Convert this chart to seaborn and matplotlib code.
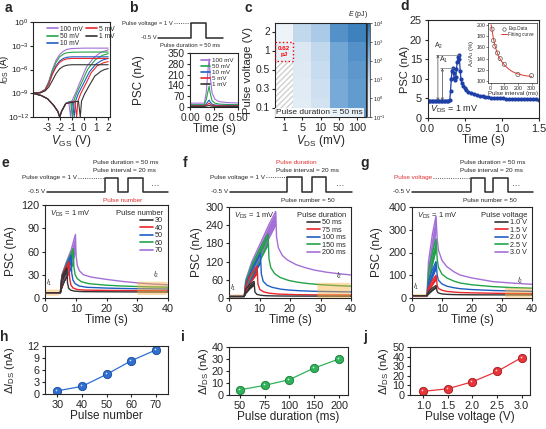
import numpy as np
import pandas as pd
import matplotlib
matplotlib.use("Agg")
import matplotlib.pyplot as plt
import matplotlib.transforms as mtrans
from matplotlib.colors import LogNorm, LinearSegmentedColormap
from matplotlib.patches import Rectangle, FancyBboxPatch
from matplotlib.lines import Line2D
import seaborn as sns

sns.set_style("ticks")
plt.rcParams["font.family"] = ["Liberation Sans", "DejaVu Sans"]
plt.rcParams["mathtext.fontset"] = "custom"
plt.rcParams["mathtext.rm"] = "Liberation Sans"
plt.rcParams["mathtext.it"] = "Liberation Sans:italic"
plt.rcParams["mathtext.bf"] = "Liberation Sans:bold"
plt.rcParams["axes.linewidth"] = 0.8
plt.rcParams["axes.unicode_minus"] = False

PUR, GRN, BLU, RED, BLK = "#A46FD6", "#22A34A", "#1F5FC4", "#E8262B", "#333333"

# ---------------- data: panel a (transfer curves) ----------------
a_labels = ["100 mV", "50 mV", "10 mV", "5 mV", "1 mV"]
a_colors = [PUR, GRN, BLU, RED, BLK]
a_rev_x = [-4.2, -3.6, -3.2, -2.9, -2.6, -2.3, -2.0, -1.7, -1.4, -1.0, 0.0, 1.0, 2.0]
a_rev_100 = [1e-9, 1.3e-9, 3e-9, 3e-8, 1e-6, 1.5e-5, 8e-5, 2e-4, 3.5e-4, 4.5e-4, 5e-4, 5e-4, 5e-4]
a_rev_50 = [1e-9, 1.3e-9, 3e-9, 2.5e-8, 7e-7, 8e-6, 4e-5, 9e-5, 1.3e-4, 1.5e-4, 1.6e-4, 1.6e-4, 1.6e-4]
a_rev_10 = [1e-9, 1.2e-9, 2.5e-9, 1.5e-8, 3e-7, 3e-6, 1.2e-5, 2.5e-5, 3.5e-5, 4e-5, 4e-5, 4e-5, 4e-5]
a_rev_5 = [1e-9, 1.2e-9, 2.5e-9, 1.5e-8, 2.5e-7, 2e-6, 8e-6, 1.6e-5, 2.2e-5, 2.5e-5, 2.5e-5, 2.5e-5, 2.5e-5]
a_rev_1 = [1e-9, 1.1e-9, 2e-9, 6e-9, 4e-8, 3e-7, 1.2e-6, 2.5e-6, 3.5e-6, 4e-6, 4e-6, 4e-6, 4e-6]
a_fwd_x_100 = [-4.2, -3.5, -3.0, -2.5, -2.15, -2.0, -1.85, -1.5, -1.25, -1.1, -1.0, -0.7, -0.3, 0.2, 0.8, 1.4, 2.0]
a_fwd_100 = [1e-9, 5e-10, 2e-10, 3e-11, 5e-12, 1e-12, 5e-12, 5e-11, 8e-11, 1e-12, 1e-10, 1e-9, 3e-8, 2e-6, 3e-5, 1.5e-4, 3e-4]
a_fwd_x_50 = [-4.2, -3.5, -3.0, -2.5, -2.15, -2.0, -1.85, -1.5, -1.1, -0.95, -0.85, -0.6, -0.2, 0.3, 0.9, 1.5, 2.0]
a_fwd_50 = [1e-9, 5e-10, 2e-10, 3e-11, 5e-12, 1e-12, 5e-12, 5e-11, 1e-10, 1e-12, 1e-10, 1e-9, 2e-8, 1e-6, 1.5e-5, 6e-5, 1e-4]
a_fwd_x_10 = [-4.2, -3.5, -3.0, -2.5, -2.15, -2.0, -1.85, -1.5, -0.95, -0.8, -0.7, -0.45, -0.05, 0.45, 1.0, 1.5, 2.0]
a_fwd_10 = [1e-9, 5e-10, 2e-10, 3e-11, 5e-12, 1e-12, 5e-12, 5e-11, 1e-10, 1e-12, 1e-10, 1e-9, 1.5e-8, 5e-7, 5e-6, 1.5e-5, 2.5e-5]
a_fwd_x_5 = [-4.2, -3.5, -3.0, -2.5, -2.15, -2.0, -1.85, -1.5, -0.75, -0.6, -0.5, -0.25, 0.15, 0.6, 1.1, 1.6, 2.0]
a_fwd_5 = [1e-9, 5e-10, 2e-10, 3e-11, 5e-12, 1e-12, 5e-12, 5e-11, 1e-10, 1e-12, 1e-10, 1e-9, 1.5e-8, 4e-7, 3e-6, 7e-6, 1e-5]
a_fwd_x_1 = [-4.2, -3.5, -3.0, -2.5, -2.15, -2.0, -1.85, -1.5, -0.45, -0.3, -0.2, 0.05, 0.45, 0.9, 1.4, 1.7, 2.0]
a_fwd_1 = [1e-9, 5e-10, 2e-10, 3e-11, 5e-12, 1e-12, 5e-12, 5e-11, 1e-10, 1e-12, 1e-10, 8e-10, 1e-8, 1.5e-7, 6e-7, 1e-6, 1.3e-6]

# ---------------- data: panel b ----------------
b_t = [0.0, 0.10, 0.15, 0.17, 0.19, 0.20, 0.21, 0.23, 0.26, 0.30, 0.40, 0.50]
b_100 = [25, 25, 25, 100, 260, 312, 200, 90, 50, 35, 28, 26]
b_50 = [15, 15, 15, 50, 110, 135, 90, 40, 25, 19, 16, 15]
b_10 = [10, 10, 10, 20, 38, 45, 32, 18, 13, 11, 10, 10]
b_5 = [7, 7, 7, 12, 20, 25, 18, 11, 9, 8, 7, 7]
b_1 = [4, 4, 4, 6, 9, 10, 8, 5, 4.5, 4, 4, 4]

# ---------------- data: panel c (energy map, pJ) ----------------
c_vds = [1, 5, 10, 50, 100]
c_vp = [2, 1, 0.5, 0.3, 0.1]
c_E_2 = [0.3, 10, 30, 1500, 4000]
c_E_1 = [0.62, 2, 10, 400, 1500]
c_E_05 = [np.nan, 1.5, 8, 400, 1000]
c_E_03 = [np.nan, 1.2, 6, 300, 800]
c_E_01 = [np.nan, 1.0, 5, 300, 800]

# ---------------- data: panel d ----------------
d_t = [0.00, 0.02, 0.04, 0.06, 0.08, 0.10, 0.12, 0.14, 0.16, 0.18, 0.20, 0.22, 0.24, 0.26, 0.28,
       0.30, 0.31, 0.32, 0.33, 0.34, 0.35, 0.36, 0.37, 0.38, 0.39, 0.40, 0.41, 0.42, 0.43, 0.44,
       0.45, 0.46, 0.48, 0.50, 0.52, 0.55, 0.58, 0.62, 0.66, 0.70, 0.74, 0.78, 0.82, 0.86, 0.90,
       0.94, 0.98, 1.02, 1.06, 1.10, 1.14, 1.18, 1.22, 1.26, 1.30, 1.34, 1.38, 1.42, 1.46, 1.50]
d_psc = [4.4, 4.4, 4.4, 4.4, 4.4, 4.4, 4.4, 4.4, 4.4, 4.4, 4.4, 4.4, 4.4, 4.4, 4.4,
         4.6, 7.0, 10.0, 12.0, 12.7, 11.5, 10.2, 9.7, 10.5, 12.5, 14.3, 15.5, 16.1, 15.0, 12.0,
         10.0, 9.0, 8.2, 7.6, 7.2, 6.7, 6.3, 6.0, 5.8, 5.6, 5.5, 5.4, 5.3, 5.2, 5.15,
         5.1, 5.05, 5.0, 4.95, 4.9, 4.9, 4.85, 4.85, 4.8, 4.8, 4.8, 4.75, 4.75, 4.75, 4.7]
d_int = [10, 20, 30, 50, 70, 100, 200, 300]
d_ratio = [192, 172, 162, 150, 140, 130, 112, 110]
d_fit_x = [3, 10, 20, 30, 40, 50, 60, 80, 100, 130, 160, 200, 250, 300]
d_fit_y = [200, 190, 175, 164, 156, 149, 143, 135, 129, 122, 117, 113, 110, 108.5]

# ---------------- data: panel e (pulse number) ----------------
e_labels = ["30", "40", "50", "60", "70"]
e_I1 = 6.8
e_rise_t = {"30": [5.0, 5.5, 6.3, 7.1], "40": [5.0, 5.5, 6.5, 7.8], "50": [5.0, 5.5, 7.0, 8.5],
            "60": [5.0, 5.5, 7.0, 9.2], "70": [5.0, 5.5, 7.0, 8.5, 9.9]}
e_rise_up = {"30": [6.8, 26, 34, 39], "40": [6.8, 27, 38, 47], "50": [6.8, 28, 43, 55],
             "60": [6.8, 29, 45, 64], "70": [6.8, 30, 47, 62, 82]}
e_rise_lo = {"30": [6.8, 14, 22, 27], "40": [6.8, 14, 24, 32], "50": [6.8, 15, 27, 38],
             "60": [6.8, 15, 28, 44], "70": [6.8, 16, 30, 42, 58]}
e_dec_t = {"30": [7.1, 7.3, 7.7, 8.4, 9.7, 12.2, 20, 25, 30, 35, 40],
           "40": [7.8, 8.0, 8.4, 9.1, 10.4, 12.9, 20, 25, 30, 35, 40],
           "50": [8.5, 8.7, 9.1, 9.8, 11.1, 13.6, 20, 25, 30, 35, 40],
           "60": [9.2, 9.4, 9.8, 10.5, 11.8, 14.3, 20, 25, 30, 35, 40],
           "70": [9.9, 10.1, 10.5, 11.2, 12.5, 15, 20, 25, 30, 35, 40]}
e_dec_y = {"30": [39, 20, 12.5, 10, 8.8, 8.2, 8, 7.9, 7.8, 7.7, 7.7],
           "40": [47, 26, 17, 13, 11, 10.2, 9.8, 9.6, 9.5, 9.4, 9.4],
           "50": [55, 32, 23, 18.5, 15.5, 13.8, 12.8, 12.3, 12, 11.8, 11.6],
           "60": [64, 40, 30, 25, 21, 18.5, 16.5, 15.5, 14.8, 14.3, 14],
           "70": [82, 55, 42, 35, 30, 27, 24, 21.5, 19.5, 18, 17]}

# ---------------- data: panel f (pulse duration) ----------------
f_labels = ["50 ms", "75 ms", "100 ms", "150 ms", "200 ms"]
f_I1 = 5
f_rise_t = {"50 ms": [5, 5.5, 6.8, 8.2], "75 ms": [5, 5.5, 7.0, 9.2], "100 ms": [5, 5.5, 7.5, 10.3],
            "150 ms": [5, 5.5, 7.5, 10.5, 12.8], "200 ms": [5, 5.5, 7.5, 10.5, 13, 15.3]}
f_rise_up = {"50 ms": [5, 30, 45, 55], "75 ms": [5, 40, 75, 105], "100 ms": [5, 48, 95, 148],
             "150 ms": [5, 55, 110, 170, 212], "200 ms": [5, 60, 120, 185, 240, 285]}
f_rise_lo = {"50 ms": [5, 15, 30, 42], "75 ms": [5, 20, 50, 80], "100 ms": [5, 25, 65, 115],
             "150 ms": [5, 28, 75, 130, 175], "200 ms": [5, 30, 80, 140, 195, 240]}
f_dec_t = {"50 ms": [8.2, 8.5, 9.1, 10.4, 12.1, 15, 18, 21, 26, 33, 40],
           "75 ms": [9.2, 9.5, 10.1, 11.4, 13.1, 16, 19, 22, 27, 33, 40],
           "100 ms": [10.3, 10.6, 11.2, 12.5, 14.2, 17, 20, 23, 28, 34, 40],
           "150 ms": [12.8, 13.1, 13.7, 15, 16.7, 19.5, 22.5, 25.5, 30, 35, 40],
           "200 ms": [15.3, 15.6, 16.2, 17.5, 19.2, 22, 25, 28, 32, 36, 40]}
f_dec_y = {"50 ms": [55, 20, 12, 9, 7.5, 6.8, 6.5, 6.3, 6.2, 6.1, 6],
           "75 ms": [105, 45, 28, 20, 16, 13, 12, 11, 10.5, 10, 10],
           "100 ms": [148, 80, 55, 42, 35, 29, 26, 24, 22, 21, 20],
           "150 ms": [212, 130, 100, 80, 68, 58, 52, 48, 44, 41, 39],
           "200 ms": [285, 200, 165, 140, 125, 110, 100, 92, 85, 80, 76]}

# ---------------- data: panel g (pulse voltage) ----------------
g_labels = ["1.0 V", "1.5 V", "2.0 V", "2.5 V", "3.0 V"]
g_I1 = 10
g_rise_t = {k: [5, 5.5, 6.8, 8.0] for k in g_labels}
g_rise_up = {"1.0 V": [10, 27, 44, 55], "1.5 V": [10, 45, 78, 100], "2.0 V": [10, 72, 125, 160],
             "2.5 V": [10, 115, 200, 260], "3.0 V": [10, 160, 280, 360]}
g_rise_lo = {"1.0 V": [10, 17, 33, 44], "1.5 V": [10, 27, 57, 80], "2.0 V": [10, 42, 90, 128],
             "2.5 V": [10, 65, 145, 210], "3.0 V": [10, 90, 200, 290]}
g_dec_t = {k: [8.0, 8.4, 8.8, 10, 11.6, 14, 16, 20, 27, 33, 40] for k in g_labels}
g_dec_y = {"1.0 V": [55, 28, 22, 18, 16, 15, 14.5, 14, 13.8, 13.6, 13.5],
           "1.5 V": [100, 55, 42, 34, 29, 26, 24, 22.5, 21, 20, 19.5],
           "2.0 V": [160, 100, 78, 62, 52, 45, 41, 37, 33, 31, 29],
           "2.5 V": [260, 170, 135, 105, 88, 74, 66, 58, 50, 46, 43],
           "3.0 V": [360, 260, 211, 165, 138, 115, 101, 88, 72, 66, 60]}

# ---------------- data: panels h, i, j ----------------
h_x = [30, 40, 50, 60, 70]
h_y = [0.8, 1.9, 4.9, 8.3, 11.0]
i_x = ["50", "75", "100", "150", "200"]
i_y = [4.3, 8.0, 12.8, 22.5, 30.0]
j_x = [1.0, 1.5, 2.0, 2.5, 3.0]
j_y = [3.8, 6.5, 13.8, 24.5, 39.0]

# =================================================================
W, H = 546, 429
fig = plt.figure(figsize=(W / 100, H / 100), dpi=100)


def box(x0, y0, x1, y1):
    return fig.add_axes([x0 / W, 1 - y1 / H, (x1 - x0) / W, (y1 - y0) / H])


TICK_FS = 7.8
LAB_FS = 8.5


def style(ax, fs=TICK_FS):
    ax.tick_params(direction="out", length=2.5, width=0.8, labelsize=fs, pad=1.5)
    for s in ax.spines.values():
        s.set_visible(True)
        s.set_linewidth(0.8)


def ylab(ax, text, xpos, fs=LAB_FS):
    ax.set_ylabel(text, fontsize=fs)
    ax.yaxis.set_label_coords(xpos, 0.5)


# ---------------- panel a ----------------
axA = box(33, 22, 110, 117)
rev = [a_rev_100, a_rev_50, a_rev_10, a_rev_5, a_rev_1]
fx = [a_fwd_x_100, a_fwd_x_50, a_fwd_x_10, a_fwd_x_5, a_fwd_x_1]
fy = [a_fwd_100, a_fwd_50, a_fwd_10, a_fwd_5, a_fwd_1]
for lab, c, r, xx, yy in zip(a_labels, a_colors, rev, fx, fy):
    sns.lineplot(x=a_rev_x, y=r, ax=axA, color=c, lw=0.8, sort=False, estimator=None, legend=False)
    sns.lineplot(x=xx, y=yy, ax=axA, color=c, lw=0.8, sort=False, estimator=None, legend=False)
axA.set_yscale("log")
axA.set_ylim(1e-12, 1.0)
axA.set_xlim(-4.2, 2.15)
axA.set_xticks([-3, -2, -1, 0, 1, 2])
axA.set_yticks([1e0, 1e-3, 1e-6, 1e-9, 1e-12])
axA.minorticks_off()
style(axA, 7.3)
axA.tick_params(axis="y", labelsize=6.1, pad=0.5)
axA.set_xlabel(r"$V_{\rm GS}$ (V)", fontsize=LAB_FS, labelpad=0)
ylab(axA, r"$I_{\rm DS}$ (A)", -0.285, 7.0)
hA = [Line2D([], [], color=c, lw=1.2) for c in a_colors]
axA.legend(hA, a_labels, ncol=2, fontsize=4.8, loc="upper left", bbox_to_anchor=(0.12, 1.01),
           frameon=False, handlelength=1.6, columnspacing=0.6, labelspacing=0.05, handletextpad=0.3,
           borderpad=0.2)

# ---------------- panel b ----------------
axB = box(190, 53, 238, 107)
for y, c, lab in zip([b_100, b_50, b_10, b_5, b_1], a_colors, a_labels):
    sns.lineplot(x=b_t, y=y, ax=axB, color=c, lw=0.8, sort=False, estimator=None, legend=False)
axB.set_xlim(0, 0.5)
axB.set_ylim(0, 350)
axB.set_xticks([0, 0.25, 0.5])
axB.set_xticklabels(["0.00", "0.25", "0.50"])
axB.set_yticks([0, 70, 140, 210, 280, 350])
style(axB, 7.3)
axB.set_xlabel("Time (s)", fontsize=LAB_FS, labelpad=0)
ylab(axB, "PSC (nA)", -0.94)
axB.legend(hA, a_labels, fontsize=4.5, loc="upper right", frameon=False, handlelength=1.4,
           labelspacing=0.1, handletextpad=0.3, borderpad=0.3)

# ---------------- panel c ----------------
axC = box(275, 23, 366, 117)
cax = box(367, 23, 370, 117)
E_df = pd.DataFrame([c_E_2, c_E_1, c_E_05, c_E_03, c_E_01], index=c_vp, columns=c_vds)
cmap = LinearSegmentedColormap.from_list("bl", ["#f7f9fc", "#d3e3f1", "#7fb0dc", "#2a72b4"])
axC.add_patch(Rectangle((0, 2), 1, 3, hatch="//////", fill=False, edgecolor="#d0d0d0", lw=0, zorder=0))
sns.heatmap(E_df, ax=axC, cmap=cmap, norm=LogNorm(0.1, 1e4), cbar_ax=cax, mask=E_df.isna(),
            linewidths=0)
axC.set_facecolor("white")
axC.set_yticklabels(["2", "1", "0.5", "0.3", "0.1"], rotation=0)
axC.set_xticklabels(["1", "5", "10", "50", "100"], rotation=0)
style(axC)
axC.tick_params(axis="y", labelsize=7.4, pad=1)
axC.set_xlabel(r"$V_{\rm DS}$ (mV)", fontsize=LAB_FS, labelpad=0)
ylab(axC, "Pulse voltage (V)", -0.24, 8.2)
axC.add_patch(Rectangle((0.02, 1.0), 0.96, 1.0, fill=False, ec="red", ls=":", lw=1.0, zorder=5))
axC.text(0.5, 1.5, "0.62\npJ", color="red", fontsize=4.5, ha="center", va="center", fontweight="bold")
axC.text(0.08, 4.75, "Pulse duration = 50 ms", fontsize=6, ha="left", va="center",
         bbox=dict(boxstyle="square,pad=0.15", fc="white", ec="none", alpha=0.85))
cax.tick_params(labelsize=4, length=1.5, width=0.5, pad=1)
cax.yaxis.set_ticks([1e-1, 1e0, 1e1, 1e2, 1e3, 1e4])
cax.minorticks_off()
for s in cax.spines.values():
    s.set_linewidth(0.5)

# ---------------- panel d ----------------
axD = box(427.5, 20, 539, 118)
sns.lineplot(x=d_t, y=d_psc, ax=axD, color="#1f3fa8", lw=0.9, marker="o", markersize=3,
             markeredgewidth=0, sort=False, estimator=None, legend=False)
axD.set_xlim(0, 1.5)
axD.set_ylim(0, 25)
axD.set_xticks([0, 0.5, 1.0, 1.5])
axD.set_yticks([0, 5, 10, 15, 20, 25])
style(axD)
axD.set_xlabel("Time (s)", fontsize=LAB_FS, labelpad=0)
ylab(axD, "PSC (nA)", -0.16, 8.0)
for xa, ypk, xend, lab, ly in [(0.14, 16.1, 0.42, r"A$_2$", 17.0), (0.2, 12.7, 0.34, r"A$_1$", 13.6)]:
    axD.annotate("", xy=(xa, ypk), xytext=(xa, 4.4),
                 arrowprops=dict(arrowstyle="<->", color="#444", lw=0.5, shrinkA=0, shrinkB=0,
                                 mutation_scale=4))
    axD.plot([xa - 0.03, xend], [ypk, ypk], color="#777", lw=0.5)
    axD.text(xa - 0.05, ly, lab, fontsize=5, ha="left", va="bottom")
axD.text(0.04, 2.2, r"$V_{\rm DS}$ = 1 mV", fontsize=6.5, ha="left", va="center")

ins = box(488, 23, 537, 83)
sns.lineplot(x=d_fit_x, y=d_fit_y, ax=ins, color="#e03a2f", lw=0.7, sort=False, estimator=None,
             legend=False)
sns.scatterplot(x=d_int, y=d_ratio, ax=ins, s=9, legend=False)
coll = ins.collections[-1]
coll.set_facecolor("none")
coll.set_edgecolor("#555555")
coll.set_linewidth(0.5)
ins.set_xlim(-20, 340)
ins.set_ylim(97, 203)
ins.set_xticks([0, 100, 200, 300])
ins.set_yticks([100, 120, 140, 160, 180, 200])
ins.tick_params(direction="out", labelsize=3.8, length=1.2, width=0.4, pad=0.8)
for s in ins.spines.values():
    s.set_linewidth(0.5)
ins.set_xlabel("Pulse interval (ms)", fontsize=4.3, labelpad=0.5)
ins.set_ylabel(r"A$_2$/A$_1$ (%)", fontsize=4.3, labelpad=0.5)
ins.legend([Line2D([], [], marker="o", ls="", mfc="none", mec="#555", ms=2.5, mew=0.5),
            Line2D([], [], color="#e03a2f", lw=0.7)], ["Exp.Data", "Fitting curve"],
           fontsize=3.3, loc="upper right", frameon=False, handlelength=1.2, labelspacing=0.1,
           handletextpad=0.3, borderpad=0.2)


# ---------------- panels e, f, g ----------------
def draw_psc(ax, labels, colors, I1, rt, ru, rl, dt, dy, ylim, yticks, title, hl, ylx):
    order = list(zip(labels, colors))[::-1]
    for lab, c in order:
        t = [0.0] + rt[lab] + dt[lab][1:]
        y = [I1] + ru[lab] + dy[lab][1:]
        ax.fill_between(rt[lab], rl[lab], ru[lab], color=c, lw=0, zorder=2)
        sns.lineplot(x=t, y=y, ax=ax, color=c, lw=1.0, sort=False, estimator=None, legend=False, zorder=3)
        sns.lineplot(x=rt[lab], y=rl[lab], ax=ax, color=c, lw=0.8, sort=False, estimator=None,
                     legend=False, zorder=3)
    ax.set_xlim(0, 40)
    ax.set_ylim(*ylim)
    ax.set_xticks([0, 10, 20, 30, 40])
    ax.set_yticks(yticks)
    style(ax)
    ax.set_xlabel("Time (s)", fontsize=LAB_FS, labelpad=0)
    ylab(ax, "PSC (nA)", ylx)
    hh = [Line2D([], [], color=c, lw=1.2) for c in colors]
    ax.legend(hh, labels, title=title, fontsize=5.2, title_fontsize=5.5, loc="upper right",
              frameon=False, handlelength=1.8, labelspacing=0.05, handletextpad=0.3,
              borderpad=0.2, alignment="right")
    ax.text(0.04, 0.96, r"$V_{\rm DS}$ = 1 mV", transform=ax.transAxes, fontsize=5.4, ha="left",
            va="top")
    (b1, b2) = hl
    ax.add_patch(FancyBboxPatch((0.3, b1[0]), 4.4, b1[1] - b1[0], boxstyle="round,pad=0,rounding_size=1",
                                fc="#f5b041", ec="none", alpha=0.45, zorder=1))
    ax.add_patch(FancyBboxPatch((b2[2], b2[0]), 39.8 - b2[2], b2[1] - b2[0],
                                boxstyle="round,pad=0,rounding_size=1", fc="#f5b041", ec="none",
                                alpha=0.45, zorder=4))
    ax.text(1.5, b1[1] + (ylim[1]) * 0.02, r"$I_1$", fontsize=5, ha="center", va="bottom")
    ax.text(36, b2[1] + (ylim[1]) * 0.02, r"$I_2$", fontsize=5, ha="center", va="bottom")


axE = box(45, 205, 168, 298)
draw_psc(axE, e_labels, [BLK, RED, BLU, GRN, PUR], e_I1, e_rise_t, e_rise_up, e_rise_lo,
         e_dec_t, e_dec_y, (0, 120), [0, 30, 60, 90, 120], "Pulse number",
         ((3, 11), (4, 21, 30)), -0.228)
axF = box(229, 207, 351, 298)
draw_psc(axF, f_labels, [BLK, RED, BLU, GRN, PUR], f_I1, f_rise_t, f_rise_up, f_rise_lo,
         f_dec_t, f_dec_y, (0, 300), [0, 60, 120, 180, 240, 300], "Pulse duration",
         ((0, 12), (0, 50, 29)), -0.213)
axG = box(412, 207, 532, 298)
draw_psc(axG, g_labels, [BLK, RED, BLU, GRN, PUR], g_I1, g_rise_t, g_rise_up, g_rise_lo,
         g_dec_t, g_dec_y, (0, 400), [0, 100, 200, 300, 400], "Pulse voltage",
         ((2, 18), (2, 45, 31)), -0.242)


# ---------------- panels h, i, j ----------------
def dots(ax, x, y, c, ec):
    sns.lineplot(x=x, y=y, ax=ax, color=c, lw=0.9, marker="o", markersize=6, markeredgecolor=ec,
                 markeredgewidth=0.6, sort=False, estimator=None, legend=False)
    tr = mtrans.offset_copy(ax.transData, fig=fig, x=-1.0, y=1.0, units="dots")
    ax.scatter(x, y, s=1.5, color="white", alpha=0.8, transform=tr, zorder=5, lw=0)


axH = box(45, 346, 168, 394)
dots(axH, h_x, h_y, "#2e6fd0", "#1a4a9a")
axH.set_xlim(25, 75)
axH.set_ylim(0, 12)
axH.set_xticks(h_x)
axH.set_yticks([0, 3, 6, 9, 12])
style(axH)
axH.set_xlabel("Pulse number", fontsize=LAB_FS, labelpad=0)
ylab(axH, r"$\Delta I_{\rm DS}$ (nA)", -0.225, 8)

axI = box(229, 347, 348, 395)
i_pos = list(range(len(i_x)))
dots(axI, i_pos, i_y, "#2fb35a", "#1c7a3a")
axI.set_xlim(-0.43, 4.36)
axI.set_ylim(0, 40)
axI.set_xticks(i_pos)
axI.set_xticklabels(i_x)
axI.set_yticks([0, 10, 20, 30, 40])
style(axI)
axI.set_xlabel("Pulse duration (ms)", fontsize=LAB_FS, labelpad=0)
ylab(axI, r"$\Delta I_{\rm DS}$ (nA)", -0.15, 8)

axJ = box(410, 347, 530, 395)
dots(axJ, j_x, j_y, "#e8353a", "#a01a1e")
axJ.set_xlim(0.73, 3.17)
axJ.set_ylim(0, 50)
axJ.set_xticks(j_x)
axJ.set_xticklabels(["1.0", "1.5", "2.0", "2.5", "3.0"])
axJ.set_yticks([0, 10, 20, 30, 40, 50])
style(axJ)
axJ.set_xlabel("Pulse voltage (V)", fontsize=LAB_FS, labelpad=0)
ylab(axJ, r"$\Delta I_{\rm DS}$ (nA)", -0.155, 8)

# ---------------- overlay: waveforms, labels ----------------
ov = fig.add_axes([0, 0, 1, 1])
ov.set_xlim(0, W)
ov.set_ylim(H, 0)
ov.axis("off")
WFS = 4.6
wcol = "#2a2a2a"

# b waveform
ov.plot([158, 191, 191, 206, 206, 223], [37.7, 37.7, 23, 23, 37.7, 37.7], color=wcol, lw=1.1)
ov.plot([174, 191], [23, 23], color=wcol, lw=0.6, ls=":")
ov.text(173, 23, "Pulse voltage = 1 V", fontsize=4.2, ha="right", va="center")
ov.text(157, 37.7, "-0.5 V", fontsize=4.2, ha="right", va="center")
ov.text(190, 45.5, "Pulse duration = 50 ms", fontsize=4.2, ha="center", va="center")


def train(x0, p1, p2, x1, yb, yt, dots_x):
    ov.plot([x0, p1[0], p1[0], p1[1], p1[1], p2[0], p2[0], p2[1], p2[1], x1],
            [yb, yb, yt, yt, yb, yb, yt, yt, yb, yb], color=wcol, lw=1.1)
    ov.text(dots_x, yb - 5, "\u00b7\u00b7\u00b7", fontsize=6, ha="center", va="center")


# e waveform
train(46.7, (105, 118.3), (128.3, 142.7), 168, 191.7, 177.7, 155)
ov.plot([78, 105], [177.7, 177.7], color=wcol, lw=0.6, ls=":")
ov.text(77, 177.7, "Pulse voltage = 1 V", fontsize=WFS, ha="right", va="center")
ov.text(45, 191.7, "-0.5 V", fontsize=WFS, ha="right", va="center")
ov.text(93, 163, "Pulse duration = 50 ms", fontsize=WFS, ha="left", va="center")
ov.text(93, 170, "Pulse interval = 20 ms", fontsize=WFS, ha="left", va="center")
ov.text(123, 200.5, "Pulse number", fontsize=WFS, ha="center", va="center", color="#e03030")

# f waveform
train(230, (287, 302), (312, 326), 351.7, 191.7, 177.3, 340)
ov.plot([266, 287], [177.3, 177.3], color=wcol, lw=0.6, ls=":")
ov.text(265, 177.3, "Pulse voltage = 1 V", fontsize=WFS, ha="right", va="center")
ov.text(228, 191.7, "-0.5 V", fontsize=WFS, ha="right", va="center")
ov.text(276, 163, "Pulse duration", fontsize=WFS, ha="left", va="center", color="#e03030")
ov.text(276, 170, "Pulse interval = 20 ms", fontsize=WFS, ha="left", va="center")
ov.text(308, 200.7, "Pulse number = 50", fontsize=WFS, ha="center", va="center")

# g waveform
train(412, (470.7, 485), (493.3, 507.7), 533, 191.7, 177.7, 516)
ov.plot([433, 470.7], [177.7, 177.7], color=wcol, lw=0.6, ls=":")
ov.text(432, 177.7, "Pulse voltage", fontsize=WFS, ha="right", va="center", color="#e03030")
ov.text(410, 191.7, "-0.5 V", fontsize=WFS, ha="right", va="center")
ov.text(460, 163, "Pulse duration = 50 ms", fontsize=WFS, ha="left", va="center")
ov.text(460, 170, "Pulse interval = 20 ms", fontsize=WFS, ha="left", va="center")
ov.text(490, 201, "Pulse number = 50", fontsize=WFS, ha="center", va="center")

ov.text(358, 14, r"$E$ (pJ)", fontsize=5, ha="center", va="center")

for lab, (x, y) in {"a": (8, 8), "b": (133, 8), "c": (248, 8), "d": (405, 6), "e": (5, 163),
                    "f": (185, 163), "g": (365, 163), "h": (4, 337), "i": (183, 337),
                    "j": (365, 337)}.items():
    ov.text(x, y, lab, fontsize=10, fontweight="bold", ha="center", va="center")

fig.savefig("out.png", dpi=100)
